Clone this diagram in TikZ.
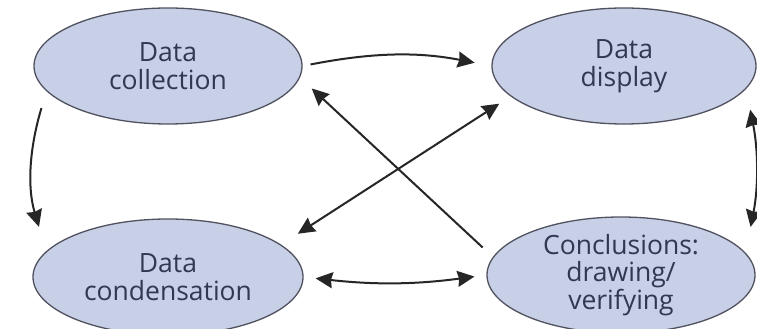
\documentclass[tikz,border=0pt]{standalone}
\usepackage{fontspec}
\newfontfamily\lblfont{Open Sans}
\usetikzlibrary{arrows.meta,shapes.geometric,calc}
\definecolor{ellfill}{RGB}{200,208,232}
\definecolor{ellline}{RGB}{80,82,95}
\definecolor{txt}{RGB}{50,55,82}
\begin{document}
\begin{tikzpicture}[x=1pt,y=1pt,
  ell/.style={ellipse, draw=ellline, line width=1.3pt, fill=ellfill, inner sep=0pt,
    minimum width=268pt, minimum height=116pt, align=center, text=txt,
    font=\lblfont\fontsize{26.5}{27.5}\selectfont},
  tip/.tip={Stealth[length=17pt,width=16pt,inset=1.5pt]},
  arr/.style={line width=2pt, draw=black!85, -tip},
  darr/.style={line width=2pt, draw=black!85, tip-tip}]
\useasboundingbox (0,0) rectangle (757,329);
\clip (0,0) rectangle (757,329);
\fill[white] (0,0) rectangle (757,329);
\node[ell] (c) at (168,263) {Data\\collection};
\node[ell, minimum width=264pt] (d) at (624,263) {Data\\display};
\node[ell, minimum width=270pt] (n) at (168,52) {Data\\condensation};
\node[ell] (k) at (621,54) {Conclusions:\\drawing/\\verifying};
\draw[arr, shorten <=8pt, shorten >=17pt] (c.east) to[bend left=11] (d.west);
\draw[arr, shorten <=14pt, shorten >=16pt] (k.172) -- (c.-5.6);
\draw[darr, shorten <=13.5pt, shorten >=20pt] (d.-165.3) -- (n.16);
\draw[darr, shorten <=12pt, shorten >=12pt] (n.east) to[bend right=7] (k.west);
\draw[arr] ($(c.189)+(0,-22)$) .. controls +(-12,-40) and +(-12,40) .. ($(n.172)+(0,32)$);
\draw[darr] ($(d.-10)+(3,-22)$) .. controls +(8,-40) and +(8,40) .. ($(k.9)+(3,28)$);
\end{tikzpicture}
\end{document}
